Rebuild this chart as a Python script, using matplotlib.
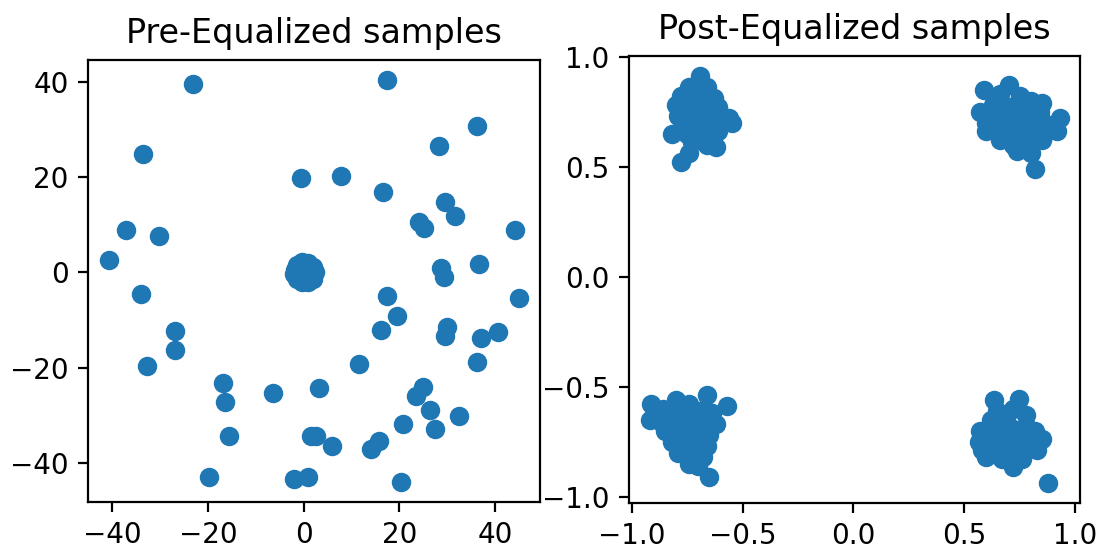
import matplotlib
matplotlib.use("Agg")
import matplotlib.pyplot as plt
from matplotlib.ticker import MultipleLocator

# ---- Pre-equalized samples (scattered points) ----
pre_x = [-23.2, 17.5, -33.7, 36.2, 28.2, -0.5, 7.8, 16.6, 29.5, 31.6, 24.0, 25.1,
         44.2, -37.1, -30.3, -40.8, 36.7, 28.7, 29.4, 45.1, -34.1, 17.4, 19.5, 16.2,
         29.9, 29.5, 37.1, 40.6, 36.2, 11.6, -26.9, -26.9, -32.8, -16.9, -16.5, -15.7,
         -19.9, -6.5, 3.2, 24.9, 23.5, 26.3, 32.5, 20.7, 27.4, 1.5, 2.5, 6.0, 14.1,
         15.8, -2.0, 0.9, 20.3]
pre_y = [39.5, 40.3, 24.8, 30.7, 26.5, 19.8, 20.2, 16.9, 14.8, 11.8, 10.6, 9.3,
         8.9, 8.9, 7.6, 2.6, 1.8, 0.9, -0.9, -5.4, -4.6, -4.9, -9.1, -12.0,
         -11.5, -13.4, -13.8, -12.5, -18.7, -19.2, -12.2, -16.3, -19.7, -23.1, -27.2, -34.2,
         -42.8, -25.2, -24.3, -24.0, -26.0, -28.8, -30.0, -31.7, -32.9, -34.2, -34.2, -36.3, -37.0,
         -35.4, -43.2, -42.8, -43.9]
# dense blob near the origin
blob_x = [-1.8, -1.4, -0.4, 0.9, 2.0, 2.3, 2.0, 0.9, -0.3, -1.5, -2.0, 0.3, 0.8, -0.6, 1.3, -0.9]
blob_y = [0.5, 1.6, 2.1, 2.0, 1.2, 0.0, -1.3, -2.0, -2.1, -1.3, -0.4, 0.2, -0.7, 0.9, 0.9, -0.8]

# ---- Post-equalized samples (four clusters) ----
tl_x = [-0.69, -0.74, -0.66, -0.78, -0.70, -0.63, -0.80, -0.74, -0.68, -0.61,
        -0.79, -0.72, -0.66, -0.60, -0.56, -0.77, -0.70, -0.64, -0.55,
        -0.82, -0.75, -0.68, -0.61, -0.73, -0.66, -0.62, -0.78, -0.74,
        -0.71, -0.76, -0.64, -0.70]
tl_y = [0.91, 0.86, 0.86, 0.82, 0.83, 0.81, 0.78, 0.78, 0.78, 0.77,
        0.73, 0.74, 0.73, 0.74, 0.72, 0.69, 0.70, 0.69, 0.70,
        0.65, 0.65, 0.64, 0.66, 0.61, 0.60, 0.59, 0.52, 0.56,
        0.67, 0.71, 0.63, 0.76]

tr_x = [0.59, 0.70, 0.66, 0.75, 0.80, 0.85, 0.57, 0.63, 0.70, 0.77, 0.84, 0.93,
        0.60, 0.66, 0.72, 0.79, 0.86, 0.60, 0.67, 0.74, 0.81, 0.88, 0.92,
        0.66, 0.72, 0.78, 0.85, 0.74, 0.80, 0.82,
        0.69, 0.76, 0.83, 0.64]
tr_y = [0.85, 0.87, 0.83, 0.82, 0.80, 0.79, 0.75, 0.78, 0.77, 0.76, 0.75, 0.72,
        0.70, 0.72, 0.71, 0.70, 0.70, 0.66, 0.66, 0.65, 0.64, 0.66, 0.66,
        0.62, 0.60, 0.60, 0.62, 0.57, 0.56, 0.49,
        0.68, 0.68, 0.68, 0.74]

bl_x = [-0.915, -0.92, -0.86, -0.80, -0.74, -0.66, -0.57, -0.87, -0.81, -0.75, -0.69, -0.64,
        -0.85, -0.79, -0.73, -0.67, -0.65, -0.82, -0.76, -0.70, -0.66, -0.79, -0.73, -0.68,
        -0.74, -0.70, -0.65, -0.77, -0.71, -0.62]
bl_y = [-0.58, -0.65, -0.60, -0.56, -0.58, -0.54, -0.59, -0.66, -0.63, -0.63, -0.61, -0.62,
        -0.70, -0.69, -0.68, -0.67, -0.72, -0.75, -0.74, -0.73, -0.77, -0.80, -0.79, -0.82,
        -0.85, -0.86, -0.91, -0.71, -0.70, -0.67]

br_x = [0.634, 0.747, 0.65, 0.72, 0.78, 0.62, 0.69, 0.57, 0.64, 0.71, 0.78, 0.82,
        0.565, 0.62, 0.69, 0.76, 0.85, 0.58, 0.65, 0.72, 0.79, 0.83, 0.60, 0.67, 0.72, 0.76, 0.876,
        0.67, 0.74, 0.70]
br_y = [-0.56, -0.555, -0.61, -0.60, -0.63, -0.65, -0.64, -0.70, -0.69, -0.69, -0.68, -0.70,
        -0.75, -0.74, -0.74, -0.73, -0.74, -0.79, -0.79, -0.78, -0.78, -0.79, -0.82, -0.83, -0.865, -0.83, -0.937,
        -0.76, -0.76, -0.81]

titles = ["Pre-Equalized samples", "Post-Equalized samples"]

W, H, DPI = 1099, 552, 200
fig = plt.figure(figsize=(W / DPI, H / DPI), dpi=DPI)

def rect(l, t, r, b):
    return [l / W, (H - b) / H, (r - l) / W, (b - t) / H]

ax1 = fig.add_axes(rect(88, 60, 540, 502))
ax2 = fig.add_axes(rect(629, 56, 1080, 503))

ax1.scatter(pre_x + blob_x, pre_y + blob_y, color="#1f77b4")
ax1.set_title(titles[0])
ax1.xaxis.set_major_locator(MultipleLocator(20))
ax1.yaxis.set_major_locator(MultipleLocator(20))

post_x = tl_x + tr_x + bl_x + br_x
post_y = tl_y + tr_y + bl_y + br_y
ax2.scatter(post_x, post_y, color="#1f77b4")
ax2.set_title(titles[1])
ax2.xaxis.set_major_locator(MultipleLocator(0.5))
ax2.yaxis.set_major_locator(MultipleLocator(0.5))

fig.savefig("out.png", dpi=DPI)
